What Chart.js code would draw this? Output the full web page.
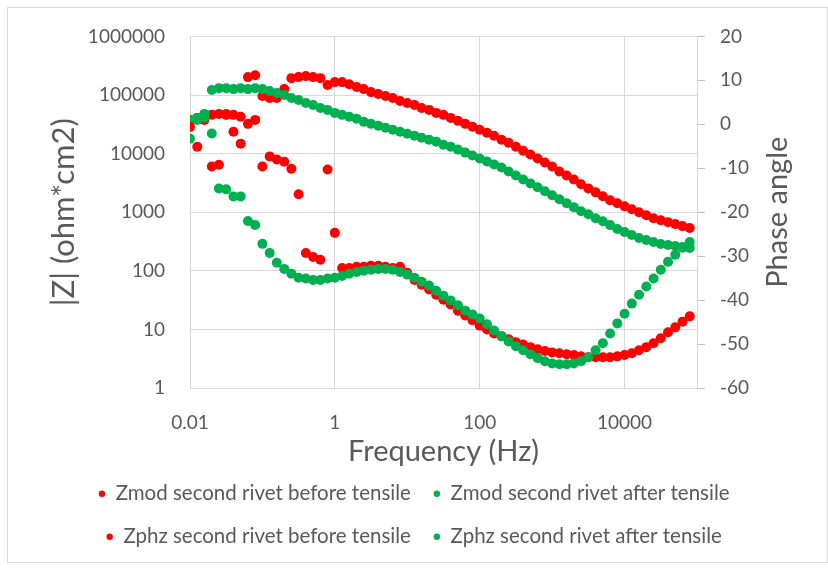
<!DOCTYPE html>
<html>
<head>
<meta charset="utf-8">
<script src="https://cdn.jsdelivr.net/npm/chart.js@4.4.1/dist/chart.umd.min.js"></script>
<style>
    html, body { margin: 0; padding: 0; background: #fff; }
    #wrap { position: relative; width: 828px; height: 568px; }
    #frame { position: absolute; left: 7px; top: 7px; width: 821px; height: 556px;
             box-sizing: border-box; border: 1px solid #d9d9d9; pointer-events: none; }
</style>
</head>
<body>
<div id="wrap">
    <canvas id="myChart" width="828" height="568"></canvas>
    <div id="frame"></div>
</div>
<script>
// frequency (Hz), 10 points per decade
const freq = [
    0.01, 0.0126, 0.0158, 0.02, 0.0251, 0.0316, 0.0398, 0.0501, 0.0631, 0.0794,
    0.1, 0.126, 0.158, 0.2, 0.251, 0.316, 0.398, 0.501, 0.631, 0.794,
    1, 1.26, 1.58, 2, 2.51, 3.16, 3.98, 5.01, 6.31, 7.94,
    10, 12.6, 15.8, 20, 25.1, 31.6, 39.8, 50.1, 63.1, 79.4,
    100, 126, 158, 200, 251, 316, 398, 501, 631, 794,
    1000, 1259, 1585, 1995, 2512, 3162, 3981, 5012, 6310, 7943,
    10000, 12589, 15849, 19953, 25119, 31623, 39811, 50119, 63096, 79433
]

// |Z| (ohm*cm2)
const zmodBefore = [
    34800, 40700, 44000, 45800, 47600, 47600, 45800, 42400, 202000, 218000,
    96200, 88900, 88900, 126000, 194000, 202000, 210000, 202000, 194000, 148000,
    166000, 166000, 153000, 137000, 126000, 112000, 104000, 96200, 88900, 79100,
    73100, 67700, 60200, 55700, 49500, 45800, 40700, 36200, 32200, 28700,
    25500, 22700, 20200, 17300, 15300, 13100, 11200, 9620, 8230, 7030,
    6030, 4950, 4240, 3620, 2990, 2550, 2180, 1870, 1600, 1420,
    1260, 1120, 1000, 889, 791, 731, 677, 626, 579, 536
]
const zmodAfter = [
    37700, 40700, 47600, 122000, 131000, 131000, 126000, 131000, 126000, 131000,
    126000, 117000, 108000, 100000, 88900, 82300, 73100, 67700, 60200, 55700,
    49500, 45800, 42400, 39200, 34800, 32200, 29900, 27600, 25500, 23600,
    21800, 20200, 18700, 17300, 16000, 14200, 13100, 11700, 10400, 9250,
    8230, 7310, 6510, 5790, 4950, 4240, 3620, 3100, 2660, 2270,
    1940, 1660, 1420, 1220, 1040, 925, 791, 703, 602, 515,
    458, 407, 362, 335, 310, 287, 276, 265, 255, 245
]

// phase angle (deg)
const phzBefore = [
    -0.6, -5.1, 1.0, -9.6, -9.2, 2.1, -1.7, -4.4, 0.1, 1.0,
    -9.6, -7.3, -8.0, -8.5, -10.1, -15.9, -29.3, -30.2, -30.8, -10.3,
    -24.7, -32.7, -32.7, -32.4, -32.4, -32.2, -32.2, -32.4, -32.7, -32.4,
    -33.8, -35.4, -36.5, -37.6, -38.8, -39.9, -41.0, -42.4, -43.5, -44.6,
    -45.8, -46.7, -47.6, -48.2, -48.9, -49.6, -50.1, -50.7, -51.2, -51.6,
    -51.9, -52.1, -52.3, -52.5, -52.8, -53.0, -53.0, -53.0, -53.0, -52.8,
    -52.5, -52.1, -51.4, -50.7, -49.8, -48.7, -47.3, -46.2, -44.9, -43.7
]
const phzAfter = [
    -3.3, 1.0, 1.5, -2.1, -14.6, -14.8, -16.4, -16.4, -22.0, -22.9,
    -27.2, -29.3, -31.5, -32.9, -34.0, -34.9, -35.1, -35.4, -35.4, -35.1,
    -34.9, -34.5, -34.0, -33.6, -33.3, -33.1, -32.9, -32.9, -33.1, -33.6,
    -34.2, -34.9, -35.8, -36.7, -37.9, -39.0, -40.1, -41.2, -42.4, -43.3,
    -44.2, -45.5, -46.9, -48.2, -49.4, -50.5, -51.4, -52.3, -53.2, -53.9,
    -54.4, -54.6, -54.6, -54.4, -53.9, -53.0, -51.4, -49.8, -47.6, -45.3,
    -43.1, -40.8, -38.8, -36.9, -35.1, -33.1, -31.3, -29.7, -28.1, -26.8
]

// axis ticks
const freqTicks = [0.01, 1, 100, 10000, 100000]
const zTicks = [1, 10, 100, 1000, 10000, 100000, 1000000]
const phaseTicks = [-60, -50, -40, -30, -20, -10, 0, 10, 20]

const RED = '#ff0000'
const GREEN = '#00b050'
const TEXT = '#595959'
const GRID = '#d9d9d9'

function toPoints(values) {
    return freq.map((f, i) => ({ x: f, y: values[i] }))
}

function series(label, values, color, axis, order) {
    return {
        label: label,
        data: toPoints(values),
        yAxisID: axis,
        order: order,
        backgroundColor: color,
        borderColor: color,
        pointRadius: 5,
        pointBorderWidth: 0,
        showLine: false
    }
}

// draws the secondary axis title bottom-to-top like the original
const rightTitle = {
    id: 'rightTitle',
    afterDraw(chart) {
        const s = chart.scales.y2
        const ctx = chart.ctx
        ctx.save()
        ctx.translate(s.right - 50, (chart.chartArea.top + chart.chartArea.bottom) / 2)
        ctx.rotate(-Math.PI / 2)
        ctx.fillStyle = TEXT
        ctx.font = '29px Lato'
        ctx.textAlign = 'center'
        ctx.textBaseline = 'middle'
        ctx.fillText('Phase angle', 0, 0)
        ctx.restore()
    }
}

const tickFont = { family: 'Lato', size: 19 }

const config = {
    type: 'scatter',
    data: {
        datasets: [
            series('Zmod second rivet before tensile', zmodBefore, RED, 'y', 4),
            series('Zmod second rivet after tensile', zmodAfter, GREEN, 'y', 3),
            series('Zphz second rivet before tensile', phzBefore, RED, 'y2', 2),
            series('Zphz second rivet after tensile', phzAfter, GREEN, 'y2', 1)
        ]
    },
    options: {
        responsive: false,
        animation: false,
        layout: { padding: { top: 34, bottom: 11, left: 0, right: 0 } },
        plugins: {
            legend: {
                position: 'bottom',
                labels: {
                    usePointStyle: true,
                    boxWidth: 7,
                    boxHeight: 4.5,
                    padding: 22.5,
                    color: TEXT,
                    font: { family: 'Lato', size: 20.5 },
                    sort: (a, b) => a.datasetIndex - b.datasetIndex
                }
            },
            tooltip: { enabled: false }
        },
        scales: {
            x: {
                type: 'logarithmic',
                position: 'bottom',
                min: 0.01,
                max: 100000,
                afterBuildTicks: s => { s.ticks = freqTicks.map(v => ({ value: v })) },
                afterFit: s => { s.height = 73 },
                ticks: {
                    callback: v => (v === 100000 ? '' : String(v)),
                    color: TEXT, font: tickFont, padding: 23,
                    maxRotation: 0, autoSkip: false
                },
                grid: { color: GRID, drawTicks: false },
                border: { color: GRID },
                title: {
                    display: true, text: 'Frequency (Hz)', color: TEXT,
                    font: { family: 'Lato', size: 29, lineHeight: 1 },
                    padding: { top: 0, bottom: -5.5 }
                }
            },
            y: {
                type: 'logarithmic',
                position: 'left',
                min: 1,
                max: 1000000,
                afterBuildTicks: s => { s.ticks = zTicks.map(v => ({ value: v })) },
                afterFit: s => { s.width = 190 },
                ticks: {
                    callback: v => String(v),
                    color: TEXT, font: tickFont, padding: 25, autoSkip: false
                },
                grid: { color: GRID, drawTicks: false },
                border: { color: GRID },
                title: {
                    display: true, text: '|Z| (ohm*cm2)', color: TEXT,
                    font: { family: 'Lato', size: 31, lineHeight: 1 },
                    padding: { top: 48, bottom: 0 }
                }
            },
            y2: {
                type: 'linear',
                position: 'right',
                min: -60,
                max: 20,
                afterBuildTicks: s => { s.ticks = phaseTicks.map(v => ({ value: v })) },
                afterFit: s => { s.width = 131 },
                ticks: { color: TEXT, font: tickFont, padding: 15, autoSkip: false },
                grid: { drawOnChartArea: false, drawTicks: true, tickLength: 8, color: '#bfbfbf' },
                border: { color: GRID }
            }
        }
    },
    plugins: [rightTitle]
}

const myChart = new Chart(document.getElementById('myChart'), config)
</script>
</body>
</html>
